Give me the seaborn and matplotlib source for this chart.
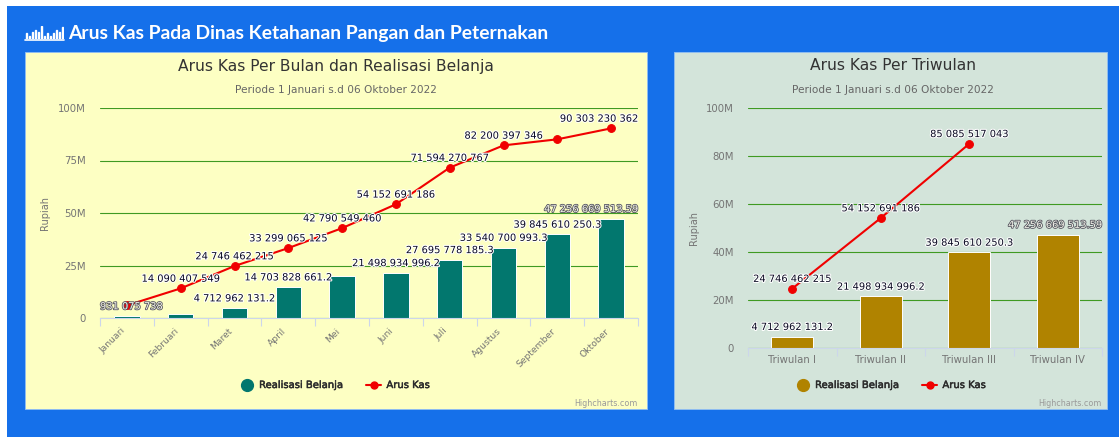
# plot.py
import pandas as pd
import matplotlib
matplotlib.use('Agg')
import matplotlib.pyplot as plt
import matplotlib.patheffects as pe
from matplotlib.lines import Line2D
from matplotlib.patches import Rectangle
from matplotlib.ticker import FuncFormatter
import seaborn as sns

W, H = 1119, 437

# monthly chart
bulan = ['Januari', 'Februari', 'Maret', 'April', 'Mei', 'Juni', 'Juli',
         'Agustus', 'September', 'Oktober']
belanja_bulan = [931075738, 1900000000, 4712962131.2, 14703828661.2, 19900000000,
                 21498934996.2, 27695778185.3, 33540700993.3, 39845610250.3,
                 47256669513.59]
kas_bulan = [6000000000, 14090407549, 24746462215, 33299065125, 42790549460,
             54152691186, 71594270767, 82200397346, 85085517043, 90303230362]
# no label is shown for some of the points
label_belanja_bulan = ['931 075 738', None, '4 712 962 131.2', '14 703 828 661.2', None,
                       '21 498 934 996.2', '27 695 778 185.3', '33 540 700 993.3',
                       '39 845 610 250.3', '47 256 669 513.59']
label_kas_bulan = [None, '14 090 407 549', '24 746 462 215', '33 299 065 125',
                   '42 790 549 460', '54 152 691 186', '71 594 270 767',
                   '82 200 397 346', None, '90 303 230 362']
ticks_bulan = [0, 25e9, 50e9, 75e9, 100e9]

# quarterly chart
triwulan = ['Triwulan I', 'Triwulan II', 'Triwulan III', 'Triwulan IV']
belanja_triwulan = [4712962131.2, 21498934996.2, 39845610250.3, 47256669513.59]
kas_triwulan = [24746462215, 54152691186, 85085517043, None]
label_belanja_triwulan = ['4 712 962 131.2', '21 498 934 996.2', '39 845 610 250.3',
                          '47 256 669 513.59']
label_kas_triwulan = ['24 746 462 215', '54 152 691 186', '85 085 517 043', None]
ticks_triwulan = [0, 20e9, 40e9, 60e9, 80e9, 100e9]

icon_bars = [6, 3, 7, 9, 7, 13, 3, 6, 3, 6, 9, 7, 12]

BLUE = '#1570ea'
GRID = '#3f9a22'
AXIS = '#ccd6eb'
RED = '#f00000'


def px_rect(left, top, right, bottom):
    """Pixel box to figure fractions"""
    return [left / W, 1 - bottom / H, (right - left) / W, (bottom - top) / H]


def add_panel(fig, left, top, right, bottom, color):
    x, y, w, h = px_rect(left, top, right, bottom)
    fig.add_artist(Rectangle((x, y), w, h, transform=fig.transFigure, facecolor=color,
                             edgecolor='#8fbdf0', linewidth=0.7, zorder=-5))


def add_value_labels(fig, ax, xs, values, labels, ghost=()):
    """Labels above the points, pushed back inside the plot like Highcharts does"""
    renderer = fig.canvas.get_renderer()
    box = ax.get_window_extent(renderer)
    for x, value, label in zip(xs, values, labels):
        if label is None:
            continue
        if label in ghost:
            # overlapping labels come out washed in the original
            color, outline, width = '#f4f4ea', '#55555f', 1.2
        else:
            color, outline, width = '#0a0a22', '#ffffff', 1.5
        txt = ax.annotate(label, (x, value), xytext=(0, 7), textcoords='offset points',
                          ha='center', va='center', fontsize=7.1, color=color, zorder=6,
                          annotation_clip=False,
                          path_effects=[pe.withStroke(linewidth=width, foreground=outline)])
        ext = txt.get_window_extent(renderer)
        shift = 0
        if ext.x1 > box.x1:
            shift = box.x1 - ext.x1
        elif ext.x0 < box.x0:
            shift = box.x0 - ext.x0
        if shift:
            txt.set_position((shift * 72 / fig.dpi, 7))


def draw_chart(fig, rect, categories, belanja, kas, label_belanja, label_kas, yticks,
               bar_color, title, center_x, title_y, legend_x, ylabel_x, rotate=False):
    ax = fig.add_axes(px_rect(*rect))
    ax.set_facecolor('none')
    df = pd.DataFrame({'kategori': categories, 'belanja': belanja, 'kas': kas})

    sns.barplot(data=df, x='kategori', y='belanja', color=bar_color, saturation=1,
                width=0.47, edgecolor='white', linewidth=0.7, ax=ax, zorder=2)
    sns.lineplot(data=df, x='kategori', y='kas', color=RED, linewidth=1.5, marker='o',
                 markersize=5.6, markeredgecolor=RED, sort=False, errorbar=None,
                 ax=ax, zorder=3)

    n = len(categories)
    ax.set_xlim(-0.5, n - 0.5)
    ax.set_ylim(0, 100e9)
    ax.set_xlabel('')
    ax.set_ylabel('')
    ax.set_yticks(yticks)
    ax.yaxis.set_major_formatter(FuncFormatter(lambda v, _: '0' if v == 0 else f'{v / 1e9:.0f}M'))
    ax.grid(False)
    ax.grid(axis='y', color=GRID, linewidth=0.8)
    ax.set_axisbelow(True)
    sns.despine(ax=ax, left=True)
    ax.spines['bottom'].set_color(AXIS)
    ax.spines['bottom'].set_linewidth(0.8)

    ax.set_xticks(range(n))
    ax.set_xticks([i - 0.5 for i in range(n + 1)], minor=True)
    ax.tick_params(axis='x', which='major', length=0, labelsize=6.6 if rotate else 7.3,
                   labelcolor='#747474', pad=6 if rotate else 5)
    ax.tick_params(axis='x', which='minor', bottom=True, length=6, width=0.8, color=AXIS)
    ax.tick_params(axis='y', length=0, labelsize=7.3, labelcolor='#747474', pad=10)
    if rotate:
        for lab in ax.get_xticklabels():
            lab.set_rotation(45)
            lab.set_ha('right')

    # titles live in pixel places of the panel
    fig.text(center_x / W, 1 - title_y / H, title, ha='center', va='center',
             fontsize=11.2, color='#333333')
    fig.text(center_x / W, 1 - 90 / H, 'Periode 1 Januari s.d 06 Oktober 2022', ha='center',
             va='center', fontsize=7.55, color='#666666')
    mid_y = (rect[1] + rect[3]) / 2
    fig.text(ylabel_x / W, 1 - mid_y / H, 'Rupiah', rotation=90, ha='center', va='center',
             fontsize=7, color='#747474')
    fig.text(rect[2] / W, 1 - 403 / H, 'Highcharts.com', ha='right', va='center',
             fontsize=5.8, color='#9a9a9a')

    handles = [
        Line2D([], [], linestyle='none', marker='o', markersize=8.5, color=bar_color),
        Line2D([], [], color=RED, linewidth=1.5, marker='o', markersize=5),
    ]
    leg = ax.legend(handles, ['Realisasi Belanja', 'Arus Kas'], ncol=2, frameon=False,
                    loc='center', bbox_to_anchor=(legend_x / W, 1 - 385 / H),
                    bbox_transform=fig.transFigure, fontsize=7.2, labelcolor='#2c2c2c',
                    handlelength=1.5, handletextpad=0.5, columnspacing=2.3, borderpad=0)
    for t in leg.get_texts():
        t.set_path_effects([pe.withStroke(linewidth=0.35, foreground='#2c2c2c')])

    fig.canvas.draw()
    xs = list(range(n))
    ghost = ('931 075 738', '47 256 669 513.59')
    add_value_labels(fig, ax, xs, belanja, label_belanja, ghost=ghost)
    add_value_labels(fig, ax, xs, kas, label_kas)
    return ax


def main():
    sns.set_theme(style='white')
    plt.rcParams['font.family'] = ['DejaVu Sans']

    fig = plt.figure(figsize=(W / 100, H / 100), dpi=100, facecolor='white')

    # page background and the two cards
    fig.add_artist(Rectangle((7 / W, 0), 1 - 7 / W, 1 - 6 / H, transform=fig.transFigure,
                             facecolor=BLUE, edgecolor='none', zorder=-10))
    add_panel(fig, 25, 52, 647, 409, '#fdffc3')
    add_panel(fig, 674, 52, 1107, 409, '#d3e4da')

    # header icon
    icon = fig.add_axes(px_rect(25, 26, 64, 39))
    icon.axis('off')
    icon.bar(range(len(icon_bars)), icon_bars, width=0.42, color='white')
    icon.set_xlim(-0.5, len(icon_bars) - 0.5)
    icon.set_ylim(0, 13)
    fig.add_artist(Line2D([25 / W, 64 / W], [1 - 40 / H, 1 - 40 / H], color='white',
                          linewidth=1.2, transform=fig.transFigure))
    fig.text(68 / W, 1 - 34 / H, 'Arus Kas Pada Dinas Ketahanan Pangan dan Peternakan',
             ha='left', va='center', fontsize=13.87, fontweight='bold', family='Lato',
             color='white')

    draw_chart(fig, (100, 108, 638, 318), bulan, belanja_bulan, kas_bulan,
               label_belanja_bulan, label_kas_bulan, ticks_bulan, '#02776e',
               'Arus Kas Per Bulan dan Realisasi Belanja', 336, 66, 334.5, 45, rotate=True)
    draw_chart(fig, (748, 108, 1102, 348), triwulan, belanja_triwulan, kas_triwulan,
               label_belanja_triwulan, label_kas_triwulan, ticks_triwulan, '#b08300',
               'Arus Kas Per Triwulan', 893, 66, 890.5, 694)

    fig.savefig('out.png', dpi=100, facecolor='white')
    plt.close(fig)


if __name__ == "__main__":
    main()
